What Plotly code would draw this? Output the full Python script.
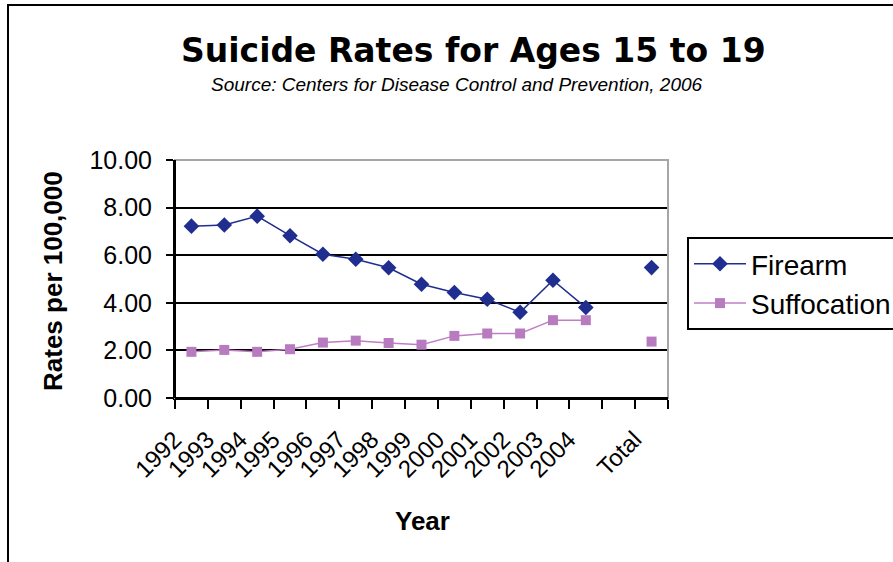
import plotly.graph_objects as go

categories = ["1992", "1993", "1994", "1995", "1996", "1997", "1998", "1999",
              "2000", "2001", "2002", "2003", "2004", " ", "Total"]
firearm = [7.22, 7.27, 7.64, 6.82, 6.04, 5.83, 5.47, 4.78, 4.43, 4.15, 3.60, 4.95, 3.80, None, 5.48]
suffocation = [1.94, 2.02, 1.94, 2.05, 2.33, 2.41, 2.31, 2.24, 2.61, 2.71, 2.71, 3.27, 3.27, None, 2.37]
y_ticks = [0, 2, 4, 6, 8, 10]
y_ticktext = ["0.00", "2.00", "4.00", "6.00", "8.00", "10.00"]

W, H = 893, 562
L, R, T, B = 175, 668, 160, 398


def px(x):
    return (x - L) / (R - L)


def py(y):
    return (B - y) / (B - T)


fig = go.Figure()
fig.add_trace(go.Scatter(
    x=categories, y=firearm, name="Firearm", mode="lines+markers",
    line=dict(color="#1f2e8f", width=1.5),
    marker=dict(symbol="diamond", size=12, color="#1f2e8f"),
    connectgaps=False, cliponaxis=False,
))
fig.add_trace(go.Scatter(
    x=categories, y=suffocation, name="Suffocation", mode="lines+markers",
    line=dict(color="#c07ec4", width=1.5),
    marker=dict(symbol="square", size=10, color="#b97bbf"),
    connectgaps=False, cliponaxis=False,
))

fig.update_layout(
    width=W, height=H,
    margin=dict(l=L, r=W - R, t=T, b=H - B, pad=0, autoexpand=False),
    paper_bgcolor="white", plot_bgcolor="white",
    font=dict(family="Liberation Sans, Arial, sans-serif", color="black"),
    showlegend=True,
    legend=dict(
        x=px(687), y=py(237), xanchor="left", yanchor="top",
        bordercolor="black", borderwidth=2, bgcolor="white",
        font=dict(size=28, family="Liberation Sans, Arial, sans-serif"),
        itemwidth=52, tracegroupgap=0,
    ),
    xaxis=dict(
        type="category", categoryorder="array", categoryarray=categories,
        range=[-0.5, len(categories) - 0.5],
        showline=True, linecolor="black", linewidth=2,
        ticks="outside", ticklen=9, tickwidth=2, tickcolor="black",
        tickson="boundaries", tickangle=-45,
        ticklabelshift=-17, ticklabelstandoff=16,
        tickfont=dict(size=24), showgrid=False, zeroline=False,
    ),
    yaxis=dict(
        range=[0, 10], tickvals=y_ticks, ticktext=y_ticktext,
        showline=True, linecolor="black", linewidth=2,
        ticks="outside", ticklen=7, tickwidth=2, tickcolor="black",
        tickfont=dict(size=25), ticklabelstandoff=9,
        showgrid=True, gridcolor="black", gridwidth=2, zeroline=False,
    ),
    shapes=[
        # plot area border (top/right gray)
        dict(type="rect", xref="paper", yref="paper", x0=0, x1=1, y0=0, y1=1,
             line=dict(color="#a6a6a6", width=2), layer="above"),
        # outer chart frame
        dict(type="rect", xref="paper", yref="paper",
             x0=px(8), x1=px(905), y0=py(575), y1=py(5),
             line=dict(color="black", width=2), layer="below"),
    ],
    annotations=[
        dict(text="<b>Suicide Rates for Ages 15 to 19</b>", xref="paper", yref="paper",
             x=px(179), y=py(50), xanchor="left", yanchor="middle", showarrow=False,
             font=dict(size=33, family="DejaVu Sans, sans-serif", color="black")),
        dict(text="<i>Source: Centers for Disease Control and Prevention, 2006</i>",
             xref="paper", yref="paper", x=px(209), y=py(84), xanchor="left",
             yanchor="middle", showarrow=False,
             font=dict(size=19, family="Liberation Sans, Arial, sans-serif", color="black")),
        dict(text="<b>Rates per 100,000</b>", xref="paper", yref="paper",
             x=px(53), y=py(281), xanchor="center", yanchor="middle", textangle=-90,
             showarrow=False, font=dict(size=26, color="black")),
        dict(text="<b>Year</b>", xref="paper", yref="paper",
             x=px(422), y=py(521), xanchor="center", yanchor="middle",
             showarrow=False, font=dict(size=26, color="black")),
    ],
)

# redraw the axis lines above the gray border
fig.add_shape(type="line", xref="paper", yref="paper", x0=0, x1=0, y0=0, y1=1,
              line=dict(color="black", width=2), layer="above")
fig.add_shape(type="line", xref="paper", yref="paper", x0=0, x1=1, y0=0, y1=0,
              line=dict(color="black", width=2), layer="above")

fig.write_html("out.html")
